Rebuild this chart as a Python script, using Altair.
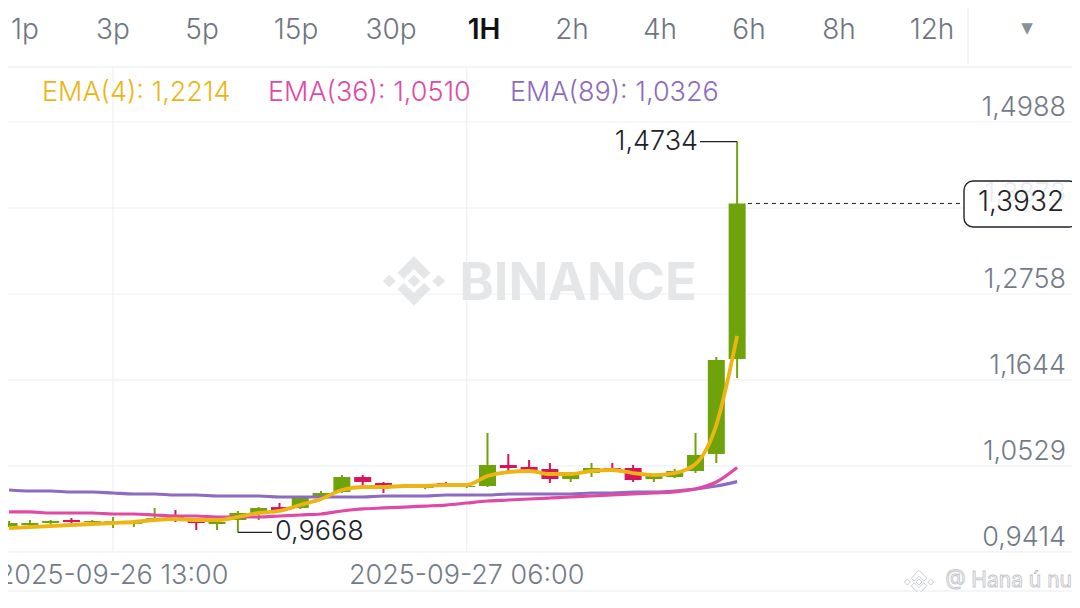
import altair as alt
import pandas as pd

# ---------------- data ----------------
hours = list(range(36))  # hourly candles, 2025-09-26 08:00 .. 2025-09-27 19:00
opens = [0.9750, 0.9763, 0.9789, 0.9828, 0.9802, 0.9802, 0.9776, 0.9828, 0.9867, 0.9815,
         0.9776, 0.9828, 0.9919, 0.9996, 0.9984, 1.0126, 1.0191, 1.0385, 1.0308, 1.0269,
         1.0243, 1.0308, 1.0256, 1.0269, 1.0541, 1.0515, 1.0489, 1.0359, 1.0437, 1.0502,
         1.0502, 1.0359, 1.0385, 1.0463, 1.0684, 1.1915]
closes = [0.9789, 0.9789, 0.9815, 0.9802, 0.9815, 0.9815, 0.9815, 0.9854, 0.9841, 0.9789,
          0.9802, 0.9919, 0.9984, 0.9958, 1.0113, 1.0178, 1.0385, 1.0321, 1.0269, 1.0282,
          1.0256, 1.0295, 1.0269, 1.0541, 1.0502, 1.0476, 1.0359, 1.0411, 1.0502, 1.0476,
          1.0346, 1.0398, 1.0463, 1.0671, 1.1902, 1.3932]
highs = [0.9815, 0.9828, 0.9828, 0.9854, 0.9828, 0.9867, 0.9828, 0.9984, 0.9958, 0.9841,
         0.9815, 0.9945, 0.9996, 1.0048, 1.0139, 1.0204, 1.0411, 1.0411, 1.0321, 1.0295,
         1.0269, 1.0321, 1.0282, 1.0956, 1.0684, 1.0606, 1.0567, 1.0424, 1.0567, 1.0567,
         1.0541, 1.0411, 1.0489, 1.0956, 1.1941, 1.4734]
lows = [0.9737, 0.9750, 0.9776, 0.9789, 0.9789, 0.9724, 0.9737, 0.9815, 0.9802, 0.9698,
        0.9698, 0.9668, 0.9828, 0.9945, 0.9971, 1.0113, 1.0178, 1.0282, 1.0178, 1.0256,
        1.0230, 1.0282, 1.0243, 1.0256, 1.0463, 1.0450, 1.0308, 1.0321, 1.0385, 1.0450,
        1.0321, 1.0321, 1.0372, 1.0437, 1.0567, 1.1669]
ema4 = [0.9724, 0.9737, 0.9750, 0.9763, 0.9776, 0.9789, 0.9802, 0.9828, 0.9841, 0.9828,
        0.9828, 0.9867, 0.9919, 0.9945, 1.0022, 1.0100, 1.0217, 1.0256, 1.0256, 1.0269,
        1.0269, 1.0282, 1.0282, 1.0398, 1.0450, 1.0463, 1.0424, 1.0424, 1.0463, 1.0476,
        1.0437, 1.0411, 1.0437, 1.0554, 1.1060, 1.2214]
ema36 = [0.9932, 0.9932, 0.9919, 0.9919, 0.9919, 0.9906, 0.9906, 0.9893, 0.9880, 0.9880,
         0.9867, 0.9867, 0.9867, 0.9880, 0.9893, 0.9906, 0.9945, 0.9971, 0.9984, 0.9996,
         1.0009, 1.0022, 1.0048, 1.0074, 1.0087, 1.0100, 1.0113, 1.0126, 1.0139, 1.0152,
         1.0165, 1.0178, 1.0191, 1.0230, 1.0321, 1.0510]
ema89 = [1.0217, 1.0204, 1.0204, 1.0191, 1.0191, 1.0178, 1.0165, 1.0165, 1.0152, 1.0152,
         1.0139, 1.0139, 1.0139, 1.0126, 1.0126, 1.0126, 1.0126, 1.0126, 1.0139, 1.0139,
         1.0139, 1.0152, 1.0152, 1.0152, 1.0165, 1.0165, 1.0165, 1.0165, 1.0178, 1.0178,
         1.0191, 1.0191, 1.0204, 1.0230, 1.0269, 1.0326]

tick_values = [0.9414, 1.0529, 1.1644, 1.2758, 1.3873, 1.4988]
date_idx = [5, 22]
date_labels = ["2025-09-26 13:00", "2025-09-27 06:00"]
tabs = ["1p", "3p", "5p", "15p", "30p", "1H", "2h", "4h", "6h", "8h", "12h"]
high_idx, high_val = 35, 1.4734
low_idx, low_val = 11, 0.9668
last_price = 1.3932


def fmt(v):
    return f"{v:.4f}".replace(".", ",")


# ---------------- styling ----------------
GREEN, RED = "#6FA30C", "#D6135C"
C4, C36, C89 = "#EDB514", "#E04AA6", "#8D6BC0"
GRID, GRAYTXT, DARK = "#EEF0F2", "#737B88", "#1E2329"
FONT = "Inter"
LIGHT = 300
W, H = 1064, 584

X = alt.Scale(domain=[4 / 21, (W + 4) / 21], nice=False, zero=False)
Y = alt.Scale(domain=[0.889444, 1.6466], nice=False, zero=False)

cdf = pd.DataFrame({"i": hours, "open": opens, "close": closes, "high": highs, "low": lows,
                    "e4": ema4, "e36": ema36, "e89": ema89})
cdf["dir"] = ["up" if c >= o else "down" for o, c in zip(opens, closes)]
one = pd.DataFrame({"k": [0]})
col = alt.Color("dir:N", scale=alt.Scale(domain=["up", "down"], range=[GREEN, RED]), legend=None)

layers = []

# grid
layers.append(alt.Chart(pd.DataFrame({"p": tick_values})).mark_rule(color=GRID, strokeWidth=1.2).encode(
    y=alt.Y("p:Q", scale=Y, axis=None), x=alt.value(0), x2=alt.value(W)))
layers.append(alt.Chart(pd.DataFrame({"i": date_idx})).mark_rule(color=GRID, strokeWidth=1.2).encode(
    x=alt.X("i:Q", scale=X, axis=None), y=alt.value(59), y2=alt.value(544)))
layers.append(alt.Chart(one).mark_rule(color="#EAECEF", strokeWidth=1.2).encode(
    x=alt.value(0), x2=alt.value(W), y=alt.value(59)))
layers.append(alt.Chart(one).mark_rule(color="#EAECEF", strokeWidth=1.2).encode(
    x=alt.value(960), y=alt.value(0), y2=alt.value(56)))
layers.append(alt.Chart(one).mark_rule(color="#EAECEF", strokeWidth=1.2).encode(
    x=alt.value(0), x2=alt.value(W), y=alt.value(583)))

# watermark
logo = ("M0,-0.2L0.2,0L0,0.2L-0.2,0Z"
        "M-0.78,-0.2L-0.58,0L-0.78,0.2L-0.98,0Z"
        "M0.78,-0.2L0.98,0L0.78,0.2L0.58,0Z"
        "M-0.52,-0.26L0,-0.78L0.52,-0.26L0.32,-0.06L0,-0.38L-0.32,-0.06Z"
        "M-0.52,0.26L0,0.78L0.52,0.26L0.32,0.06L0,0.38L-0.32,0.06Z")
layers.append(alt.Chart(one).mark_point(shape=logo, size=4000, filled=True, color="#E4E6E8", opacity=1).encode(
    x=alt.value(406), y=alt.value(273)))
layers.append(alt.Chart(one).mark_text(text="BINANCE", font=FONT, fontSize=52, fontWeight="bold",
                                       color="#E4E6E8", align="center", baseline="middle").encode(
    x=alt.value(570), y=alt.value(276)))
layers.append(alt.Chart(one).mark_point(shape=logo, size=900, filled=False, color="#C9CCD0", strokeWidth=1,
                                        opacity=1).encode(x=alt.value(911), y=alt.value(574)))
layers.append(alt.Chart(one).mark_text(text="@ Hana ú nu", font=FONT, fontSize=21, fill="#FFFFFF",
                                       stroke="#C3C6CA", strokeWidth=0.9, align="right", baseline="middle").encode(
    x=alt.value(1064), y=alt.value(573)))

# candles
layers.append(alt.Chart(cdf).mark_rule(strokeWidth=2).encode(
    x=alt.X("i:Q", scale=X, axis=None), y=alt.Y("low:Q", scale=Y, axis=None), y2="high:Q", color=col))
layers.append(alt.Chart(cdf).mark_bar(size=17).encode(
    x=alt.X("i:Q", scale=X, axis=None), y=alt.Y("open:Q", scale=Y, axis=None), y2="close:Q", color=col))

# EMA lines
for fld, c, w in [("e89", C89, 3.2), ("e36", C36, 3.2), ("e4", C4, 3.8)]:
    layers.append(alt.Chart(cdf).mark_line(color=c, strokeWidth=w, interpolate="monotone").encode(
        x=alt.X("i:Q", scale=X, axis=None), y=alt.Y(f"{fld}:Q", scale=Y, axis=None)))

# price axis labels
tdf = pd.DataFrame({"p": tick_values, "label": [fmt(v) for v in tick_values]})
layers.append(alt.Chart(tdf).mark_text(font=FONT, fontSize=27, fontWeight=LIGHT, color=GRAYTXT, align="right",
                                       baseline="middle", dy=-14).encode(
    y=alt.Y("p:Q", scale=Y, axis=None), x=alt.value(1058), text="label:N"))

# date labels
ddf = pd.DataFrame({"i": date_idx, "label": date_labels})
layers.append(alt.Chart(ddf).mark_text(font=FONT, fontSize=27, fontWeight=LIGHT, color=GRAYTXT, align="center",
                                       baseline="middle").encode(
    x=alt.X("i:Q", scale=X, axis=None), y=alt.value(568), text="label:N"))

# high / low annotations
hdf = pd.DataFrame({"i": [high_idx], "p": [high_val], "label": [fmt(high_val)]})
ldf = pd.DataFrame({"i": [low_idx], "p": [low_val], "label": [fmt(low_val)]})
layers.append(alt.Chart(hdf).mark_rule(color=DARK, strokeWidth=1.2).encode(
    x=alt.X("i:Q", scale=X, axis=None), x2=alt.value(692), y=alt.Y("p:Q", scale=Y, axis=None)))
layers.append(alt.Chart(hdf).mark_text(font=FONT, fontSize=27, fontWeight=LIGHT, color=DARK, align="right",
                                       baseline="middle").encode(
    x=alt.value(690), y=alt.Y("p:Q", scale=Y, axis=None), text="label:N"))
layers.append(alt.Chart(ldf).mark_rule(color=DARK, strokeWidth=1.2).encode(
    x=alt.X("i:Q", scale=X, axis=None), x2=alt.value(264), y=alt.Y("p:Q", scale=Y, axis=None)))
layers.append(alt.Chart(ldf).mark_text(font=FONT, fontSize=27, fontWeight=LIGHT, color=DARK, align="left",
                                       baseline="middle").encode(
    x=alt.value(267), y=alt.Y("p:Q", scale=Y, axis=None), text="label:N"))

# current price
pdf = pd.DataFrame({"p": [last_price], "label": [fmt(last_price)]})
layers.append(alt.Chart(pdf).mark_rule(color=DARK, strokeWidth=1, strokeDash=[4, 4]).encode(
    x=alt.value(740), x2=alt.value(956), y=alt.Y("p:Q", scale=Y, axis=None)))
layers.append(alt.Chart(pdf).mark_rect(cornerRadius=9, fill="#FFFFFF", fillOpacity=0.85, stroke=DARK,
                                       strokeWidth=1.4).encode(
    x=alt.value(956), x2=alt.value(1070), y=alt.value(173), y2=alt.value(219)))
layers.append(alt.Chart(pdf).mark_text(font=FONT, fontSize=28, fontWeight=LIGHT, color=DARK, align="center",
                                       baseline="middle").encode(
    x=alt.value(1013), y=alt.Y("p:Q", scale=Y, axis=None), text="label:N"))

# EMA legend
for txt, c, xx in [(f"EMA(4): {fmt(ema4[-1])}", C4, 34), (f"EMA(36): {fmt(ema36[-1])}", C36, 260),
                   (f"EMA(89): {fmt(ema89[-1])}", C89, 502)]:
    layers.append(alt.Chart(one).mark_text(text=txt, font=FONT, fontSize=27, fontWeight=LIGHT, color=c,
                                           align="left", baseline="middle").encode(
        x=alt.value(xx), y=alt.value(85)))

# interval tabs
tab_x = [17, 105, 194, 288, 383, 476, 564, 652, 741, 831, 924]
for t, xx in zip(tabs, tab_x):
    bold = t == "1H"
    layers.append(alt.Chart(one).mark_text(text=t, font=FONT, fontSize=28,
                                           fontWeight=600 if bold else LIGHT,
                                           color="#111111" if bold else "#6F7580",
                                           align="center", baseline="middle").encode(
        x=alt.value(xx), y=alt.value(23)))
layers.append(alt.Chart(one).mark_text(text="▼", font="DejaVu Sans", fontSize=15, color="#8A909A",
                                       align="center", baseline="middle").encode(
    x=alt.value(1019), y=alt.value(20)))

chart = alt.layer(*layers).properties(
    width=W, height=H, padding=0, background="#FFFFFF",
    autosize=alt.AutoSizeParams(type="none"),
).configure_view(stroke=None)

chart.save("out.html", embed_options={"renderer": "svg", "actions": False})
